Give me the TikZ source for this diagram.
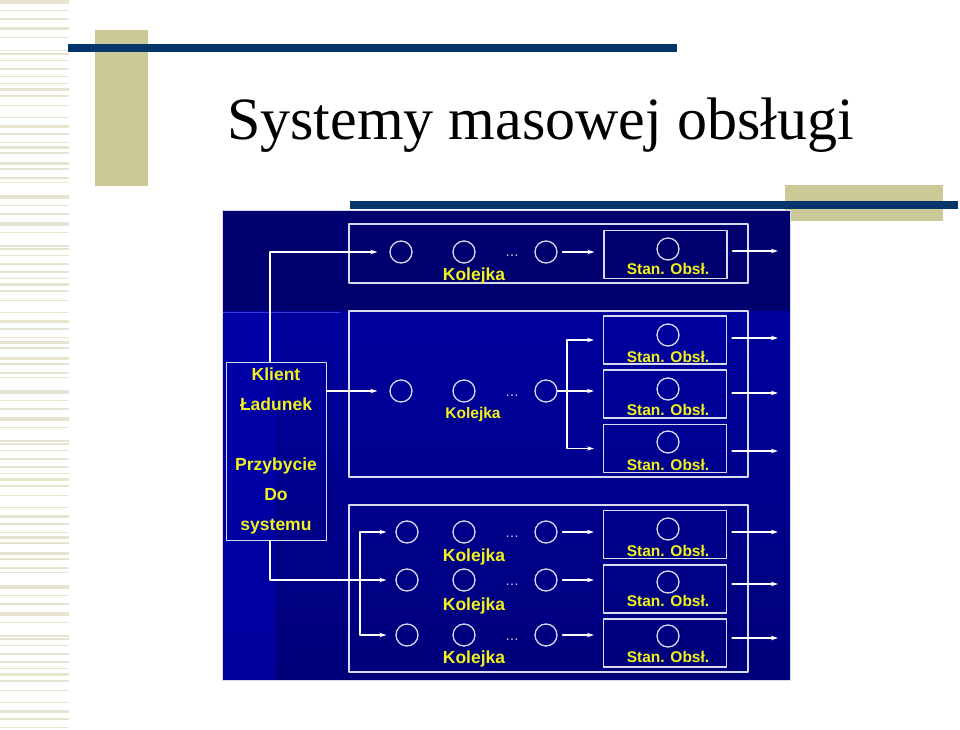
\documentclass[tikz,border=0pt]{standalone}
\usepackage{fontspec}
\setmainfont{Liberation Sans}
\newfontfamily\titlefont{Liberation Serif}
\usetikzlibrary{arrows.meta}
\definecolor{navy}{HTML}{04356B}
\definecolor{khaki}{HTML}{CCC999}
\definecolor{stripe}{HTML}{E6E4CE}
\definecolor{panel}{HTML}{00006E}
\definecolor{kyellow}{HTML}{F2F21C}
\definecolor{rim}{HTML}{DADAEE}
\begin{document}
\begin{tikzpicture}[x=1pt,y=-1pt,line join=round,line cap=round,
	>={Stealth[length=7pt,width=4.5pt]},
	queue/.style={circle,draw=rim,line width=1.3pt,minimum size=22pt,inner sep=0pt},
	srv/.style={draw=rim,line width=1.3pt,minimum width=123pt,minimum height=48pt,inner sep=0pt},
	grp/.style={draw=rim,line width=1.2pt},
	flow/.style={->,draw=white,line width=1.4pt},
	wire/.style={draw=white,line width=1.4pt},
	lab/.style={text=kyellow,font=\bfseries\fontsize{17.5}{17.5}\selectfont,inner sep=0pt},
	slab/.style={text=kyellow,font=\bfseries\fontsize{15.5}{15.5}\selectfont,inner sep=0pt},
	dots/.style={text=rim,font=\fontsize{14}{14}\selectfont,inner sep=0pt}]
	\useasboundingbox (0,0) rectangle (960,730);
	\fill[white] (0,0) rectangle (960,730);
	% striped margin
	\foreach \k in {0,195,390,585}
		\foreach \y/\h in {0/4,10/1,18/2,27/3.5,37/1.3,50/1.5,53/2,60/1,68/2,76/1.5,83/1,88/3.3,95/1.7,105/1,117/1.3,125/2.7,133/1.7,142/1,146/3.3,152/1.7,162/3.3,168/1.7,177/1.7,182/0.7}
			\fill[stripe] (0,\k+\y) rectangle (69,\k+\y+\h);
	% title decoration
	\fill[khaki] (95,30) rectangle (148,186);
	\fill[navy] (68,44) rectangle (677,52);
	\fill[khaki] (785,185) rectangle (943,221);
	\fill[navy] (350,201) rectangle (958,209);
	\node[font=\titlefont\fontsize{60}{60}\selectfont,anchor=base west,inner sep=0pt] (title) at (227,140) {Systemy masowej obsługi};
	% panel
	\fill[panel] (222,210) rectangle (790,680);
	\shade[top color=blue!62!black,bottom color=blue!48!black] (222,311) rectangle (790,680);
	\shade[top color=blue!66!black,bottom color=blue!62!black] (222,311) rectangle (275,680);
	\draw[blue!55!white,opacity=0.5,line width=1pt] (222,312) -- (340,312);
	\draw[rim,line width=1pt] (222,210) rectangle (790,680);
	% groups
	\draw[grp] (349,224) rectangle (748,283);
	\draw[grp] (349,311) rectangle (748,477);
	\draw[grp] (349,505) rectangle (748,672);
	% client
	\node[draw=rim,line width=1pt,minimum width=100pt,minimum height=178pt,align=center,
		text=kyellow,font=\bfseries\fontsize{17.5}{30}\selectfont] (klient) at (276,451)
		{Klient\\Ładunek\\ \\Przybycie\\Do\\systemu};
	% top line
	\node[queue] (q11) at (401,252) {};
	\node[queue] (q12) at (464,252) {};
	\node[dots] (d1) at (512,256) {\ldots};
	\node[queue] (q13) at (546,252) {};
	\node[lab] (k1) at (474,276) {Kolejka};
	\node[srv] (s1) at (665.5,254.5) {};
	\node[queue] (c1) at (668,249) {};
	\node[slab] (t1) at (668,269) {Stan. Obsł.};
	\coordinate (o1) at (778,251);
	% middle line
	\node[queue] (q21) at (401,391) {};
	\node[queue] (q22) at (464,391) {};
	\node[dots] (d2) at (512,396) {\ldots};
	\node[queue] (q23) at (546,391) {};
	\node[slab] (k2) at (473,414) {Kolejka};
	\node[srv] (s21) at (665,340) {};
	\node[srv] (s22) at (665,394) {};
	\node[srv] (s23) at (665,448.5) {};
	\node[queue] (c21) at (668,335) {};
	\node[queue] (c22) at (668,389) {};
	\node[queue] (c23) at (668,442) {};
	\node[slab] (t21) at (668,357) {Stan. Obsł.};
	\node[slab] (t22) at (668,410) {Stan. Obsł.};
	\node[slab] (t23) at (668,465) {Stan. Obsł.};
	\coordinate (f2) at (567,391);
	\coordinate (o21) at (778,338);
	\coordinate (o22) at (778,393);
	\coordinate (o23) at (778,451);
	% bottom lines
	\foreach \i/\y/\ly in {1/532/557,2/580/606,3/635/659}{
		\node[queue] (q3\i1) at (407,\y) {};
		\node[queue] (q3\i2) at (464,\y) {};
		\node[dots] (d3\i) at (512,\y+5) {\ldots};
		\node[queue] (q3\i3) at (546,\y) {};
		\node[lab] (k3\i) at (474,\ly) {Kolejka};
	}
	\node[srv] (s31) at (665,534.5) {};
	\node[srv] (s32) at (665,589) {};
	\node[srv] (s33) at (665,643) {};
	\node[queue] (c31) at (668,529) {};
	\node[queue] (c32) at (668,582) {};
	\node[queue] (c33) at (668,636) {};
	\node[slab] (t31) at (668,551) {Stan. Obsł.};
	\node[slab] (t32) at (668,601) {Stan. Obsł.};
	\node[slab] (t33) at (668,657) {Stan. Obsł.};
	\coordinate (f3) at (360,578);
	\coordinate (o31) at (778,532);
	\coordinate (o32) at (778,584);
	\coordinate (o33) at (778,638);
	% connectors
	\draw[flow,shorten >=12pt] ([xshift=-6pt]klient.north) |- (q11);
	\draw[flow,shorten >=12pt] (klient.east |- q21) -- (q21);
	\draw[flow,shorten >=9pt] ([xshift=-6pt]klient.south) |- (q321);
	\draw[flow,shorten >=9pt] (f3) |- (q311);
	\draw[flow,shorten >=9pt] (f3) |- (q331);
	\draw[flow,shorten <=5pt,shorten >=9pt] (q13) -- (s1.west |- q13);
	\draw[wire] (q23) -- (f2);
	\draw[flow,shorten >=9pt] (f2) |- (s21.west);
	\draw[flow,shorten >=9pt] (f2) -- (s22.west |- f2);
	\draw[flow,shorten >=9pt] (f2) |- (s23.west);
	\foreach \i in {1,2,3}
		\draw[flow,shorten <=5pt,shorten >=9pt] (q3\i3) -- (s31.west |- q3\i3);
	\draw[flow,shorten <=5pt] (s1.east |- o1) -- (o1);
	\foreach \i in {1,2,3}{
		\draw[flow,shorten <=5pt] (s21.east |- o2\i) -- (o2\i);
		\draw[flow,shorten <=5pt] (s31.east |- o3\i) -- (o3\i);
	}
\end{tikzpicture}
\end{document}
